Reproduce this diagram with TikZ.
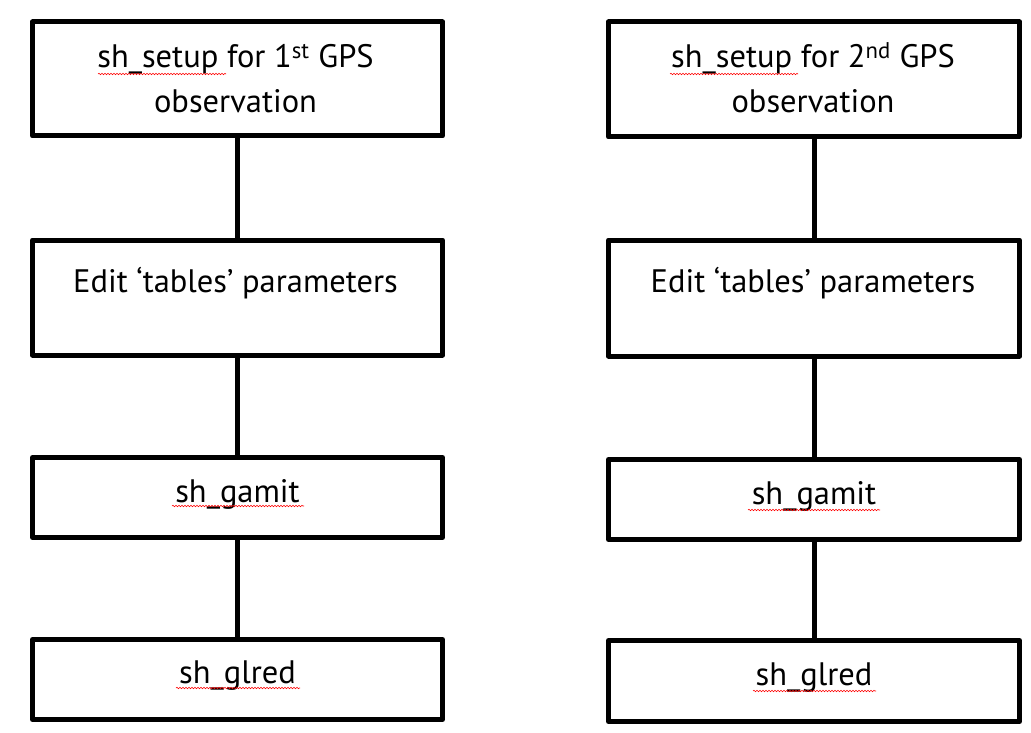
\documentclass[tikz,border=0pt]{standalone}
\usepackage{fontspec}
\setmainfont{PT Sans}
\usetikzlibrary{decorations.pathmorphing}
\begin{document}
\begin{tikzpicture}[x=1pt,y=-1pt,
  box/.style={draw=black, line width=5pt, line join=round, rectangle, inner sep=0pt, outer sep=0pt},
  lbl/.style={anchor=base, inner sep=0pt, font=\fontsize{32.5}{32.5}\selectfont},
  conn/.style={draw=black, line width=5pt},
  squig/.style={draw=red, line width=0.6pt, decorate, decoration={snake, segment length=3pt, amplitude=0.7pt}}]
\useasboundingbox (0,0) rectangle (1031,733);
% left column
\node[box, minimum width=410pt, minimum height=114pt] (L1) at (237.5,79) {};
\node[box, minimum width=410pt, minimum height=115pt] (L2) at (237.5,297.5) {};
\node[box, minimum width=410pt, minimum height=80pt] (L3) at (237.5,497.5) {};
\node[box, minimum width=410pt, minimum height=80pt] (L4) at (237.5,679.5) {};
% right column
\node[box, minimum width=411pt, minimum height=115pt] (R1) at (814,79.5) {};
\node[box, minimum width=411pt, minimum height=116pt] (R2) at (814,298) {};
\node[box, minimum width=411pt, minimum height=80pt] (R3) at (814,499.5) {};
\node[box, minimum width=411pt, minimum height=81pt] (R4) at (814,681) {};
% connectors
\draw[conn] (L1.south) -- (L2.north);
\draw[conn] (L2.south) -- (L3.north);
\draw[conn] (L3.south) -- (L4.north);
\draw[conn] (R1.south) -- (R2.north);
\draw[conn] (R2.south) -- (R3.north);
\draw[conn] (R3.south) -- (R4.north);
% texts left
\node[lbl] (tL1a) at (235.5,68) {sh\_setup for 1\textsuperscript{st} GPS};
\node[lbl] (tL1b) at (235.5,113) {observation};
\node[lbl] (tL2) at (235.5,292) {Edit ‘tables’ parameters};
\node[lbl] (tL3) at (237.5,502) {sh\_gamit};
\node[lbl] (tL4) at (237.5,683) {sh\_glred};
% texts right
\node[lbl] (tR1a) at (813,68) {sh\_setup for 2\textsuperscript{nd} GPS};
\node[lbl] (tR1b) at (813,113) {observation};
\node[lbl] (tR2) at (813,292) {Edit ‘tables’ parameters};
\node[lbl] (tR3) at (814,504) {sh\_gamit};
\node[lbl] (tR4) at (814,685) {sh\_glred};
% spell-check squiggles
\draw[squig] (98,74) -- (226,74);
\draw[squig] (172,506) -- (304,506);
\draw[squig] (176,688) -- (300,688);
\draw[squig] (670,74) -- (798,74);
\draw[squig] (748,510) -- (880,510);
\draw[squig] (753,691) -- (876,691);
\end{tikzpicture}
\end{document}
